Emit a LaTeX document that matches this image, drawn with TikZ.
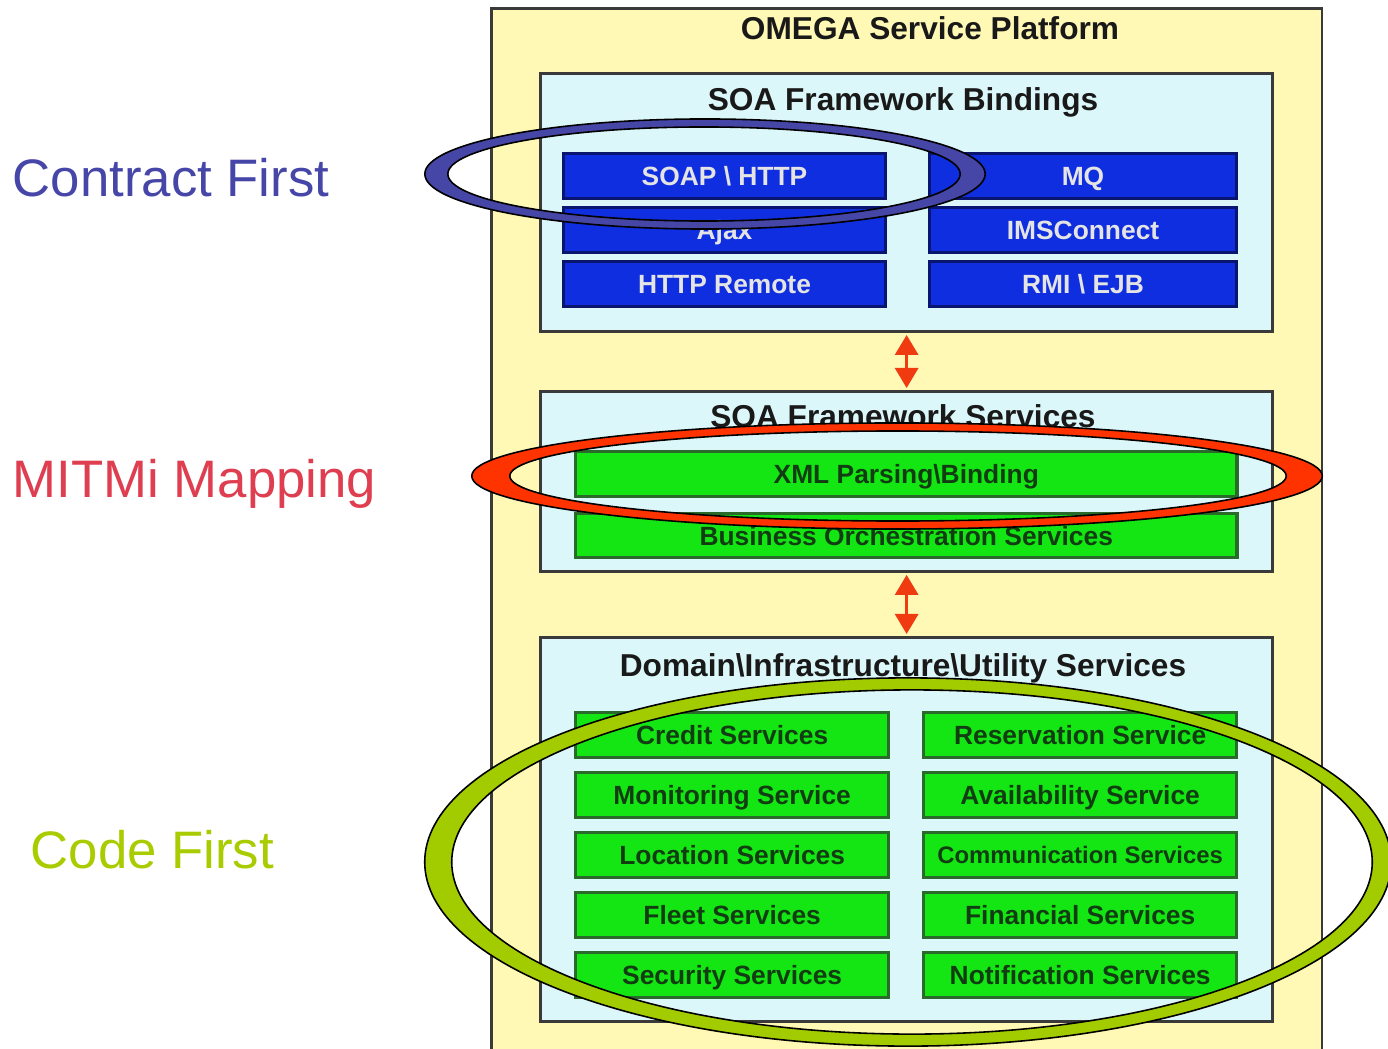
\documentclass[tikz,border=0pt]{standalone}
\usepackage{fontspec}
\setmainfont{Liberation Sans}
\usetikzlibrary{arrows.meta}

\definecolor{platformbg}{HTML}{FFF9B5}
\definecolor{panelbg}{HTML}{DCF7FA}
\definecolor{panelbd}{HTML}{3A3A3A}
\definecolor{bluefill}{HTML}{0F2EE0}
\definecolor{bluebd}{HTML}{0A1570}
\definecolor{bluetxt}{HTML}{E4E4E4}
\definecolor{greenfill}{HTML}{14E614}
\definecolor{greenbd}{HTML}{2A6A2A}
\definecolor{greentxt}{HTML}{123C12}
\definecolor{arrowred}{HTML}{F03A10}
\definecolor{ringblue}{HTML}{4646A6}
\definecolor{ringred}{HTML}{FF3300}
\definecolor{ringgreen}{HTML}{A3CC00}
\definecolor{lblblue}{HTML}{4646A8}
\definecolor{lblred}{HTML}{DE3E50}
\definecolor{lblgreen}{HTML}{A8CC00}

\tikzset{
  platform/.style={draw=panelbd, fill=platformbg, line width=0.8pt, anchor=north west, inner sep=0pt},
  panel/.style={draw=panelbd, fill=panelbg, line width=0.8pt, anchor=north west, inner sep=0pt},
  heading/.style={anchor=base, inner sep=0pt, font=\fontsize{9}{11}\selectfont\bfseries, text=black!90},
  bluebtn/.style={draw=bluebd, fill=bluefill, line width=0.8pt, anchor=north west, inner sep=0pt,
    minimum height=0.45cm, text height=5.4pt, text depth=0pt,
    text=bluetxt, font=\fontsize{7.5}{9}\selectfont\bfseries},
  greenbtn/.style={draw=greenbd, fill=greenfill, line width=0.9pt, anchor=north west, inner sep=0pt,
    minimum height=0.45cm, text height=5.4pt, text depth=0pt,
    text=greentxt, font=\fontsize{7.5}{9}\selectfont\bfseries},
  sidelabel/.style={anchor=base west, inner sep=0pt, font=\fontsize{15}{18}\selectfont},
  linkarrow/.style={draw=arrowred, line width=0.9pt,
    {Triangle[width=0.23cm,length=0.2cm]}-{Triangle[width=0.23cm,length=0.2cm]}},
  ringline/.style={draw=black, line width=0.45pt},
}

\begin{document}
\begin{tikzpicture}[x=0.01cm,y=-0.01cm]
\useasboundingbox (0,0) rectangle (1388,1049);
\clip (0,0) rectangle (1388,1049);

% platform frame
\node[platform, minimum width=8.30cm, minimum height=10.70cm] (platform) at (490,7) {};
\node[heading] (ptitle) at (930,40) {OMEGA Service Platform};

% bindings layer
\node[panel, minimum width=7.32cm, minimum height=2.58cm] (bind) at (539,72) {};
\node[heading] (bindtitle) at (903,111) {SOA Framework Bindings};
\node[bluebtn, minimum width=3.22cm] (soap) at (562,152) {SOAP \textbackslash{} HTTP};
\node[bluebtn, minimum width=3.22cm] (ajax) at (562,206) {Ajax};
\node[bluebtn, minimum width=3.22cm] (httpr) at (562,260) {HTTP Remote};
\node[bluebtn, minimum width=3.07cm] (mq) at (928,152) {MQ};
\node[bluebtn, minimum width=3.07cm] (ims) at (928,206) {IMSConnect};
\node[bluebtn, minimum width=3.07cm] (rmi) at (928,260) {RMI \textbackslash{} EJB};

% services layer
\node[panel, minimum width=7.32cm, minimum height=1.80cm] (svc) at (539,390) {};
\node[heading] (svctitle) at (903,428) {SOA Framework Services};
\node[greenbtn, minimum width=6.61cm] (xml) at (574,450) {XML Parsing\textbackslash{}Binding};
\node[greenbtn, minimum width=6.61cm, minimum height=0.44cm] (orch) at (574,512) {Business Orchestration Services};

% domain layer
\node[panel, minimum width=7.32cm, minimum height=3.84cm] (dom) at (539,636) {};
\node[heading] (domtitle) at (903,676) {Domain\textbackslash{}Infrastructure\textbackslash{}Utility Services};
\node[greenbtn, minimum width=3.13cm] (credit) at (574,711) {Credit Services};
\node[greenbtn, minimum width=3.13cm] (monitor) at (574,771) {Monitoring Service};
\node[greenbtn, minimum width=3.13cm] (location) at (574,831) {Location Services};
\node[greenbtn, minimum width=3.13cm] (fleet) at (574,891) {Fleet Services};
\node[greenbtn, minimum width=3.13cm] (security) at (574,951) {Security Services};
\node[greenbtn, minimum width=3.13cm] (reserve) at (922,711) {Reservation Service};
\node[greenbtn, minimum width=3.13cm] (avail) at (922,771) {Availability Service};
\node[greenbtn, minimum width=3.13cm, text height=4.9pt, font=\fontsize{6.8}{8}\selectfont\bfseries] (comm) at (922,831) {Communication Services};
\node[greenbtn, minimum width=3.13cm] (finance) at (922,891) {Financial Services};
\node[greenbtn, minimum width=3.13cm] (notify) at (922,951) {Notification Services};

% links between layers
\draw[linkarrow] ([yshift=-0.02cm]bind.south) -- ([yshift=0.02cm]svc.north);
\draw[linkarrow] ([yshift=-0.02cm]svc.south) -- ([yshift=0.02cm]dom.north);

% approach rings
\fill[ringblue, even odd rule]
  (705,174) ellipse [x radius=2.80cm, y radius=0.55cm]
  (704,174) ellipse [x radius=2.56cm, y radius=0.47cm];
\draw[ringline] (705,174) ellipse [x radius=2.80cm, y radius=0.55cm];
\draw[ringline] (704,174) ellipse [x radius=2.56cm, y radius=0.47cm];

\fill[ringred, even odd rule]
  (897,476) ellipse [x radius=4.25cm, y radius=0.53cm]
  (898,476) ellipse [x radius=3.88cm, y radius=0.45cm];
\draw[ringline] (897,476) ellipse [x radius=4.25cm, y radius=0.53cm];
\draw[ringline] (898,476) ellipse [x radius=3.88cm, y radius=0.45cm];

\fill[ringgreen, even odd rule]
  (908,862) ellipse [x radius=4.83cm, y radius=1.84cm]
  (912,862) ellipse [x radius=4.60cm, y radius=1.72cm];
\draw[ringline] (908,862) ellipse [x radius=4.83cm, y radius=1.84cm];
\draw[ringline] (912,862) ellipse [x radius=4.60cm, y radius=1.72cm];

% approach labels
\node[sidelabel, text=lblblue] (contract) at (12,197) {Contract First};
\node[sidelabel, text=lblred] (mitmi) at (12,497) {MITMi Mapping};
\node[sidelabel, text=lblgreen] (code) at (30,868) {Code First};
\end{tikzpicture}
\end{document}
